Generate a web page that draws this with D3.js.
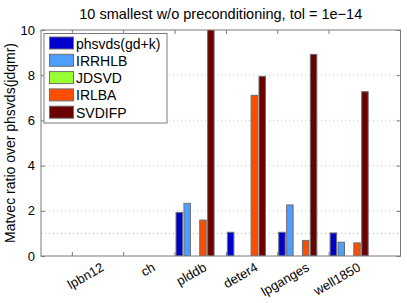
<!DOCTYPE html>
<html><head><meta charset="utf-8">
<script src="https://cdn.jsdelivr.net/npm/d3@7"></script>
<style>body{margin:0;background:#fff}svg{display:block;font-family:"Liberation Sans",Arial,sans-serif}</style>
</head><body><svg id="c" width="407" height="303"></svg>
<script>
const categories = ["lpbn12","ch","plddb","deter4","lpganges","well1850"];
const seriesNames = ["phsvds(gd+k)","IRRHLB","JDSVD","IRLBA","SVDIFP"];
const seriesColors = ["#0000cc","#4d9eff","#99ff33","#ff4d00","#6b0000"];
const phsvds = [null,null,1.93,1.05,1.05,1.02];
const irrhlb = [null,null,2.33,null,2.26,0.61];
const jdsvd  = [null,null,null,null,null,null];
const irlba  = [null,null,1.59,7.11,0.69,0.58];
const svdifp = [null,null,10.5,7.95,8.92,7.27];
const yTicks = [0,2,4,6,8,10];
const title = "10 smallest w/o preconditioning, tol = 1e\u221214";
const yLabel = "Matvec ratio over phsvds(jdqmr)";

const series = [phsvds,irrhlb,jdsvd,irlba,svdifp];
const svg = d3.select("#c");
const L=41, R=400.5, T=30, B=256;
const x = d3.scaleLinear().domain([0,7]).range([L,R]);
const y = d3.scaleLinear().domain([0,10]).range([B,T]);
const axisCol = "#7a7a7a";

// grid
svg.append("g").selectAll("line").data([2,4,6,8]).join("line")
  .attr("x1",L).attr("x2",R).attr("y1",d=>y(d)).attr("y2",d=>y(d))
  .attr("stroke","#c8c8c8").attr("stroke-dasharray","1,3");
svg.append("line").attr("x1",L).attr("x2",R).attr("y1",y(1)).attr("y2",y(1))
  .attr("stroke","#f2a0a0").attr("stroke-dasharray","1,3");

// bars
svg.append("defs").append("clipPath").attr("id","clip").append("rect")
  .attr("x",L).attr("y",T).attr("width",R-L).attr("height",B-T);
const slot = 0.769/5, bw = slot*0.82;
const gBars = svg.append("g").attr("clip-path","url(#clip)");
series.forEach((vals,k)=>{
  gBars.selectAll(null).data(vals.map((v,i)=>({v,i}))).join("rect")
    .filter(d=>d.v!==null)
    .attr("x",d=>x(d.i+1+(k-2)*slot-bw/2))
    .attr("width",d=>x(bw)-x(0))
    .attr("y",d=>y(d.v)).attr("height",d=>y(0)-y(d.v))
    .attr("fill",seriesColors[k]).attr("stroke","#6e6e6e").attr("stroke-width",1);
});

// axes box
svg.append("rect").attr("x",L).attr("y",T).attr("width",R-L).attr("height",B-T)
  .attr("fill","none").attr("stroke",axisCol).attr("stroke-width",1);

// x ticks
const xt = categories.map((c,i)=>i+0.6);
const gx = svg.append("g").attr("transform",`translate(0,${B})`)
  .call(d3.axisBottom(x).tickValues(xt).tickSizeInner(-4).tickSizeOuter(0).tickFormat(""));
gx.select(".domain").remove();
gx.selectAll("line").attr("stroke",axisCol);
const gxt = svg.append("g").attr("transform",`translate(0,${T})`)
  .call(d3.axisTop(x).tickValues(xt).tickSizeInner(-4).tickSizeOuter(0).tickFormat(""));
gxt.select(".domain").remove();
gxt.selectAll("line").attr("stroke",axisCol);

// x labels (rotated)
svg.append("g").selectAll("text").data(categories).join("text")
  .attr("transform",(d,i)=>"translate(" + x(i+1.24) + ",270) rotate(-30)")
  .attr("text-anchor","end").attr("font-size",13).attr("fill","#000").text(d=>d);

// y ticks
const gy = svg.append("g").attr("transform",`translate(${L},0)`)
  .call(d3.axisLeft(y).tickValues(yTicks).tickSizeInner(-4).tickSizeOuter(0).tickPadding(6));
gy.select(".domain").remove();
gy.selectAll("line").attr("stroke",axisCol);
gy.selectAll("text").attr("font-size",13).attr("font-family","Liberation Sans, Arial, sans-serif").attr("fill","#000");
const gyr = svg.append("g").attr("transform",`translate(${R},0)`)
  .call(d3.axisRight(y).tickValues(yTicks).tickSizeInner(-4).tickSizeOuter(0).tickFormat(""));
gyr.select(".domain").remove();
gyr.selectAll("line").attr("stroke",axisCol);

// title
svg.append("text").attr("x",(L+R)/2).attr("y",19).attr("text-anchor","middle")
  .attr("font-size",14.5).text(title);
// y label
svg.append("text").attr("transform",`translate(15,${(T+B)/2}) rotate(-90)`)
  .attr("text-anchor","middle").attr("font-size",14).text(yLabel);

// legend
const lg = svg.append("g");
lg.append("rect").attr("x",44).attr("y",33.5).attr("width",123).attr("height",89.5)
  .attr("fill","#fff").attr("stroke",axisCol);
seriesNames.forEach((n,k)=>{
  const yy = 37 + k*17.3;
  lg.append("rect").attr("x",49.5).attr("y",yy).attr("width",24).attr("height",12)
    .attr("fill",seriesColors[k]).attr("stroke","#6e6e6e");
  lg.append("text").attr("x",76).attr("y",yy+11.5).attr("font-size",14).text(n);
});
</script></body></html>
